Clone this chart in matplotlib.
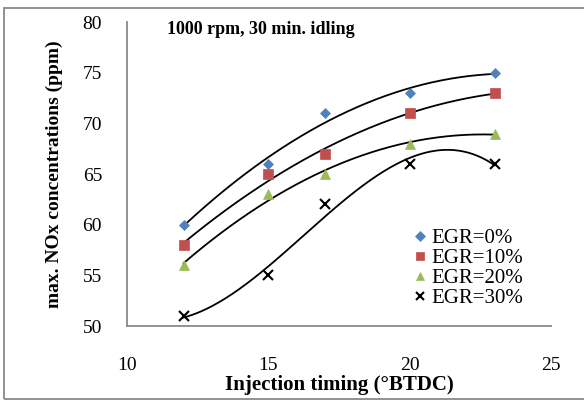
import numpy as np
import matplotlib.pyplot as plt
from matplotlib.patches import Rectangle

plt.rcParams['font.family'] = ['Liberation Serif', 'DejaVu Serif']

timing = [12, 15, 17, 20, 23]
egr0 = [60, 66, 71, 73, 75]
egr10 = [58, 65, 67, 71, 73]
egr20 = [56, 63, 65, 68, 69]
egr30 = [51, 55, 62, 66, 66]

labels = ["EGR=0%", "EGR=10%", "EGR=20%", "EGR=30%"]
series = [egr0, egr10, egr20, egr30]
orders = [2, 2, 2, 3]
markers = ["D", "s", "^", "x"]
colors = ["#4F81BD", "#C0504D", "#9BBB59", "black"]
sizes = [5.5, 6.5, 7, 7]

fig = plt.figure(figsize=(5.84, 4.01), dpi=100)
ax = fig.add_axes([0.2175, 0.187, 0.7265, 0.758])

xs = np.linspace(12, 23, 200)
for y, order in zip(series, orders):
    p = np.polyfit(timing, y, order)
    ax.plot(xs, np.polyval(p, xs), color="black", lw=1.3, zorder=2)

for y, lab, m, c, s in zip(series, labels, markers, colors, sizes):
    ax.plot(timing, y, linestyle="none", marker=m, color=c, markersize=s,
            markeredgewidth=1.5 if m == "x" else 0.5, label=lab, zorder=3)

ax.set_xlim(10, 25)
ax.set_ylim(50, 80)
ax.set_xticks([10, 15, 20, 25])
ax.set_yticks(range(50, 81, 5))
ax.tick_params(axis="both", length=0, labelsize=14)
ax.tick_params(axis="x", pad=22)
ax.tick_params(axis="y", pad=18)
for s in ["top", "right"]:
    ax.spines[s].set_visible(False)
for s in ["left", "bottom"]:
    ax.spines[s].set_color("#898989")
    ax.spines[s].set_linewidth(1.3)

ax.set_xlabel("Injection timing (°BTDC)", fontsize=15, fontweight="bold", labelpad=1)
ax.set_ylabel("max. NOx concentrations (ppm)", fontsize=14, fontweight="bold", labelpad=14)
ax.text(0.095, 1.005, "1000 rpm, 30 min. idling", transform=ax.transAxes,
        fontsize=13, fontweight="bold", va="top")

leg = ax.legend(loc="lower right", bbox_to_anchor=(0.968, 0.01), frameon=False,
                fontsize=15, handlelength=0.6, handletextpad=0.25, labelspacing=0.02,
                borderpad=0.2)
for h in leg.legend_handles:
    h.set_markersize(5.5)

fig.patches.append(Rectangle((0.007, 0.004), 1.0, 0.976, transform=fig.transFigure,
                             fill=False, edgecolor="#898989", lw=1.3))

fig.savefig("out.png", dpi=100)
